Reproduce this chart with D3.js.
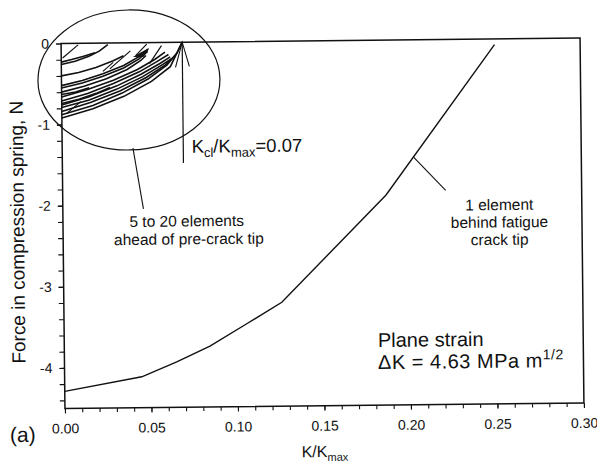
<!DOCTYPE html>
<html>
<head>
<meta charset="utf-8">
<script src="https://cdn.jsdelivr.net/npm/d3@7"></script>
<style>
  html, body { margin: 0; padding: 0; background: #fff; }
  svg { display: block; }
  text { font-family: "Liberation Sans", Arial, Helvetica, sans-serif; fill: #111; }
</style>
</head>
<body>
<svg id="chart" width="597" height="468"></svg>
<script>
// Spring force for the element behind the fatigue crack tip
const kTip = [0, 0.0446, 0.0649, 0.0842, 0.1056, 0.126, 0.1869, 0.2505];
const forceTip = [-4.29, -4.12, -3.94, -3.75, -3.48, -3.22, -1.91, -0.07];

// Spring forces for the elements 5 to 20 ahead of the pre-crack tip: [K/Kmax, N]
const aheadCurves = [
  [[0, -0.23], [0.006, -0.20], [0.013, -0.16], [0.0195, -0.12]],
  [[0, -0.26], [0.008, -0.22], [0.016, -0.16], [0.022, -0.10], [0.027, -0.02]],
  [[0, -0.40], [0.010, -0.36], [0.020, -0.30], [0.030, -0.22], [0.036, -0.16]],
  [[0, -0.52], [0.012, -0.46], [0.024, -0.38], [0.036, -0.28], [0.046, -0.16], [0.050, -0.09]],
  [[0, -0.55], [0.012, -0.49], [0.024, -0.41], [0.036, -0.31], [0.045, -0.20], [0.050, -0.11]],
  [[0, -0.60], [0.013, -0.53], [0.026, -0.44], [0.038, -0.33], [0.046, -0.22], [0.049, -0.16]],
  [[0, -0.63], [0.008, -0.60], [0.016, -0.55]],
  [[0, -0.66], [0.015, -0.57], [0.030, -0.46], [0.044, -0.33], [0.054, -0.21], [0.060, -0.12]],
  [[0, -0.71], [0.015, -0.62], [0.030, -0.50], [0.045, -0.36], [0.055, -0.24], [0.062, -0.15]],
  [[0, -0.74], [0.010, -0.69], [0.020, -0.62], [0.028, -0.55]],
  [[0, -0.76], [0.016, -0.66], [0.032, -0.53], [0.046, -0.39], [0.057, -0.26], [0.063, -0.18]],
  [[0, -0.79], [0.016, -0.70], [0.032, -0.57], [0.047, -0.42], [0.058, -0.28], [0.064, -0.20]],
  [[0, -0.84], [0.017, -0.73], [0.034, -0.59], [0.049, -0.43], [0.060, -0.28], [0.066, -0.16]],
  [[0, -0.88], [0.018, -0.77], [0.035, -0.62], [0.050, -0.45], [0.061, -0.28], [0.067, -0.13], [0.070, 0]],
  [[0, -0.92], [0.018, -0.81], [0.036, -0.66], [0.052, -0.48], [0.063, -0.30], [0.070, 0]]
];

// Short unloading strokes at the ends of some of those curves
const returnStrokes = [
  [[0.0098, -0.02], [0.0008, -0.18]],
  [[0.040, -0.10], [0.028, -0.32]],
  [[0.030, -0.24], [0.024, -0.35]],
  [[0.0495, -0.02], [0.043, -0.16]],
  [[0.058, -0.04], [0.051, -0.26]],
  [[0.011, -0.72], [0.003, -0.86]]
];
const wedge = [[0.0425, -0.17], [0.0505, -0.075], [0.0475, -0.17]];

const xMajor = [0, 0.05, 0.10, 0.15, 0.20, 0.25, 0.30];
const yMajor = [0, -1, -2, -3, -4];
const closureRatio = 0.07;

// ---- layout ----
const plotLeft = 63, plotTop = 40.7, W = 519, H = 365;
const svg = d3.select("#chart");
const page = svg.append("g").attr("transform", "rotate(-0.607 322.5 223.2)");
const plot = page.append("g").attr("transform", `translate(${plotLeft},${plotTop})`);

const x = d3.scaleLinear().domain([0, 0.3]).range([0, W]);
const y = d3.scaleLinear().domain([-4.5, 0]).range([H, 0]);
const ink = "#111";

// axes: minor ticks first, then labelled majors
const xMinor = d3.range(0, 0.3001, 0.01);
const yMinor = d3.range(-4.4, 0.001, 0.2);
const fmtY = d => d === 0 ? "0" : "-" + Math.abs(d);

const xAxisMinor = plot.append("g").attr("transform", `translate(0,${H})`)
  .call(d3.axisBottom(x).tickValues(xMinor).tickSize(4).tickFormat(""));
const xAxis = plot.append("g").attr("transform", `translate(0,${H})`)
  .call(d3.axisBottom(x).tickValues(xMajor).tickSize(5).tickPadding(10).tickFormat(d3.format(".2f")));
const yAxisMinor = plot.append("g")
  .call(d3.axisLeft(y).tickValues(yMinor).tickSize(5).tickFormat(""));
const yAxis = plot.append("g")
  .call(d3.axisLeft(y).tickValues(yMajor).tickSize(5).tickPadding(7).tickFormat(fmtY));

[xAxisMinor, xAxis, yAxisMinor, yAxis].forEach(a => {
  a.select(".domain").remove();
  a.selectAll(".tick line").attr("stroke", ink).attr("stroke-width", 1.1);
  a.selectAll("text").attr("font-size", 14).attr("fill", ink)
    .style("font-family", '"Liberation Sans", Arial, sans-serif');
});

// frame
plot.append("rect").attr("x", 0).attr("y", 0).attr("width", W).attr("height", H)
  .attr("fill", "none").attr("stroke", ink).attr("stroke-width", 1.5);

// curves
const line = d3.line().x(d => x(d[0])).y(d => y(d[1]));
plot.append("path")
  .datum(kTip.map((k, i) => [k, forceTip[i]]))
  .attr("d", line).attr("fill", "none").attr("stroke", ink).attr("stroke-width", 1.4);

plot.append("g").selectAll("path").data(aheadCurves).join("path")
  .attr("d", line).attr("fill", "none").attr("stroke", ink).attr("stroke-width", 1.6);
plot.append("g").selectAll("path").data(returnStrokes).join("path")
  .attr("d", line).attr("fill", "none").attr("stroke", ink).attr("stroke-width", 1.2);
plot.append("path").datum(wedge).attr("d", d => line(d) + "Z")
  .attr("fill", ink).attr("stroke", ink).attr("stroke-width", 1);

// grouping ellipse and its pointer
plot.append("ellipse")
  .attr("cx", x(0.039)).attr("cy", y(-0.459))
  .attr("rx", x(0.0526) - x(0)).attr("ry", y(-0.863) - y(0))
  .attr("fill", "none").attr("stroke", ink).attr("stroke-width", 1.2);
plot.append("line")
  .attr("x1", x(0.0409)).attr("y1", y(-1.30)).attr("x2", x(0.0466)).attr("y2", y(-2.05))
  .attr("stroke", ink).attr("stroke-width", 1.1);

// closure arrow
plot.append("line")
  .attr("x1", x(closureRatio)).attr("y1", y(0)).attr("x2", x(closureRatio)).attr("y2", y(-1.49))
  .attr("stroke", ink).attr("stroke-width", 1.2);
plot.append("path")
  .attr("d", line([[closureRatio - 0.004, -0.31], [closureRatio, 0], [closureRatio + 0.004, -0.30]]))
  .attr("fill", "none").attr("stroke", ink).attr("stroke-width", 1.1);

// pointer to the crack-tip curve
plot.append("line")
  .attr("x1", x(0.2029)).attr("y1", y(-1.443)).attr("x2", x(0.2214)).attr("y2", y(-1.861))
  .attr("stroke", ink).attr("stroke-width", 1.1);

// annotation text
const kcl = plot.append("text").attr("x", x(0.0748)).attr("y", y(-1.364)).attr("font-size", 18.5);
kcl.append("tspan").text("K");
kcl.append("tspan").attr("font-size", 13).attr("dy", 4.5).text("cl");
kcl.append("tspan").attr("dy", -4.5).text("/K");
kcl.append("tspan").attr("font-size", 13).attr("dy", 4.5).text("max");
kcl.append("tspan").attr("dy", -4.5).text("=0.07");

plot.append("text").attr("x", x(0.0715)).attr("y", y(-2.272))
  .attr("font-size", 15.5).attr("text-anchor", "middle").text("5 to 20 elements");
plot.append("text").attr("x", x(0.0727)).attr("y", y(-2.494))
  .attr("font-size", 15.5).attr("text-anchor", "middle").text("ahead of pre-crack tip");

["1 element", "behind fatigue", "crack tip"].forEach((t, i) => {
  plot.append("text").attr("x", x(0.2523)).attr("y", y(-2.111 - 0.215 * i))
    .attr("font-size", 15.5).attr("text-anchor", "middle").text(t);
});

plot.append("text").attr("x", x(0.1813)).attr("y", y(-3.784))
  .attr("font-size", 20).text("Plane strain");
const dk = plot.append("text").attr("x", x(0.1812)).attr("y", y(-4.056))
  .attr("font-size", 20).attr("letter-spacing", 0.5);
dk.append("tspan").text("\u0394K = 4.63 MPa m");
dk.append("tspan").attr("font-size", 14).attr("dy", -8).text("1/2");

// axis titles
const xt = page.append("text").attr("x", plotLeft + W / 2).attr("y", 457)
  .attr("font-size", 16).attr("text-anchor", "middle");
xt.append("tspan").text("K/K");
xt.append("tspan").attr("font-size", 11).attr("dy", 4).text("max");

page.append("text").attr("transform", "translate(24,229) rotate(-90)")
  .attr("font-size", 19).attr("text-anchor", "middle").text("Force in compression spring, N");

page.append("text").attr("x", 7.7).attr("y", 438.7).attr("font-size", 21).text("(a)");
</script>
</body>
</html>
